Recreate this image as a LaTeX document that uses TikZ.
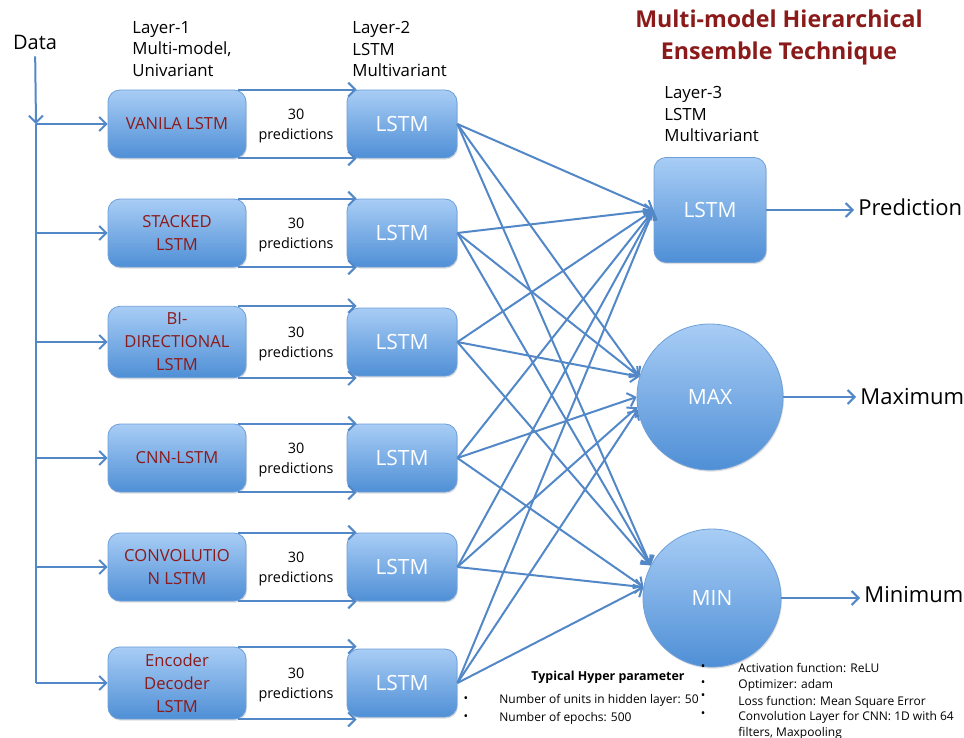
\documentclass[tikz,border=0pt]{standalone}
\usepackage{fontspec}
\setmainfont{Open Sans}
\usetikzlibrary{arrows.meta,shadows}
\definecolor{arrowblue}{HTML}{5388C8}
\definecolor{boxtop}{HTML}{A8CDF5}
\definecolor{boxbot}{HTML}{4F8FD6}
\definecolor{boxline}{HTML}{6E9FD8}
\definecolor{darkred}{HTML}{8B1A1A}
\begin{document}
\begin{tikzpicture}[x=0.5pt,y=-0.5pt,
  arr/.style={draw=arrowblue,line width=1pt,-{Straight Barb[length=3.5pt,width=7pt]}},
  line/.style={draw=arrowblue,line width=1pt},
  box/.style={draw=boxline,line width=0.4pt,top color=boxtop,bottom color=boxbot,
    drop shadow={opacity=0.25,shadow xshift=0.5pt,shadow yshift=-0.8pt}},
  model/.style={box,rounded corners=6pt,minimum width=69pt,minimum height=34pt,
    align=center,text=darkred,font=\fontsize{8.3}{11.5}\selectfont},
  lstm/.style={box,rounded corners=6pt,minimum width=55pt,minimum height=34pt,
    text=white,font=\fontsize{10.5}{12}\selectfont},
  disc/.style={box,circle,inner sep=0pt,text=white,font=\fontsize{10.5}{12}\selectfont},
  pred/.style={align=center,font=\fontsize{7.2}{10}\selectfont},
  layer/.style={align=left,anchor=north west,inner sep=0pt,font=\fontsize{8.4}{10.8}\selectfont},
  outtxt/.style={anchor=west,inner sep=2pt,font=\fontsize{11}{12}\selectfont},
  hyp/.style={inner sep=0pt,font=\fontsize{6}{7.8}\selectfont}]
  \useasboundingbox (0,0) rectangle (964,738);
  % headings
  \node[font=\bfseries\fontsize{11.6}{16}\selectfont,text=darkred,align=center]
    (title) at (779,37) {Multi-model Hierarchical\\Ensemble Technique};
  \node[font=\fontsize{10}{12}\selectfont] (data) at (35,42) {Data};
  \node[layer] (lay1) at (132,21) {Layer-1\\Multi-model,\\Univariant};
  \node[layer] (lay2) at (352,21) {Layer-2\\LSTM\\Multivariant};
  \node[layer] (lay3) at (664,86) {Layer-3\\LSTM\\Multivariant};
  % layer 3
  \node[lstm,minimum width=56pt,minimum height=52.5pt] (top) at (710,210) {LSTM};
  \node[disc,minimum size=73pt] (max) at (710,397) {MAX};
  \node[disc,minimum size=69pt] (min) at (712,598) {MIN};
  % layers 1 and 2
  \foreach \i/\y/\name in {1/124/VANILA LSTM, 2/233/{STACKED\\LSTM},
      3/342/{BI-\\DIRECTIONAL\\LSTM}, 4/458/CNN-LSTM,
      5/567/{CONVOLUTIO\\N LSTM}, 6/683/{Encoder\\Decoder\\LSTM}}
  {
    \coordinate (v\i) at (36,\y);
    \node[model] (m\i) at (177,\y) {\name};
    \node[lstm] (h\i) at (402,\y) {LSTM};
    \node[pred] (p\i) at (296,\y+2) {30\\predictions};
    \draw[arr] (v\i) -- (m\i);
    \draw[arr,shorten >=-5pt] ([xshift=-4pt]m\i.north east) -- (m\i.north east -| h\i.west);
    \draw[arr,shorten >=-5pt] ([xshift=-4pt]m\i.south east) -- (m\i.south east -| h\i.west);
  }
  \draw[arr] (data) -- (v1);
  \draw[line] (v1) -- (v6);
  % layer 2 to layer 3
  \foreach \i in {1,...,6}
    \draw[arr] (h\i.east) -- (top.west);
  \foreach \i/\a/\b in {1/164/152, 2/164/152, 3/164/152, 4/180/171, 5/188/171, 6/190/171}
  {
    \draw[arr] (h\i.east) -- (max.\a);
    \draw[arr] (h\i.east) -- (min.\b);
  }
  % outputs
  \node[outtxt] (pre) at (854,207) {Prediction};
  \node[outtxt] (mx) at (856,397) {Maximum};
  \node[outtxt] (mn) at (860,595) {Minimum};
  \draw[arr] (top.east) -- (top.east -| pre.west);
  \draw[arr] (max.east) -- (max.east -| mx.west);
  \draw[arr] (min.east) -- (min.east -| mn.west);
  % hyper parameters
  \node[hyp,font=\bfseries\fontsize{6.2}{8}\selectfont] (hyph) at (608,677) {Typical Hyper parameter};
  \foreach \k/\y/\txt in {1/700/Number of units in hidden layer: 50, 2/718/Number of epochs: 500}
  {
    \node[hyp] (lb\k) at (466,\y) {\textbullet};
    \node[hyp,anchor=west] (lt\k) at (499,\y) {\txt};
  }
  \foreach \k/\y/\b/\txt in {1/668/668/Activation function: ReLU, 2/685/684/Optimizer: adam,
      3/702/697/Loss function: Mean Square Error}
  {
    \node[hyp] (rb\k) at (703,\b) {\textbullet};
    \node[hyp,anchor=west] (rt\k) at (738,\y) {\txt};
  }
  \node[hyp] (rb4) at (703,715) {\textbullet};
  \node[hyp,align=left,anchor=north west] (rt4) at (738,711)
    {Convolution Layer for CNN: 1D with 64\\filters, Maxpooling};
\end{tikzpicture}
\end{document}
